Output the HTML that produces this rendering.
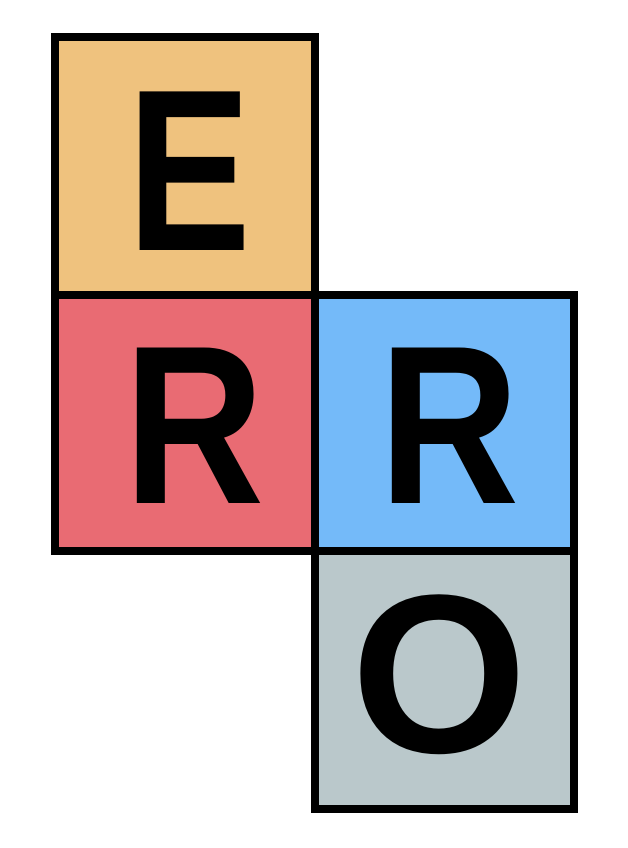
<!DOCTYPE html>
<html><head><meta charset="utf-8"><style>
html,body{margin:0;padding:0;background:#fff;width:628px;height:848px;overflow:hidden}
svg{display:block}
text{font-family:"Liberation Sans",sans-serif;font-weight:bold;font-size:226px;fill:#000}
</style></head><body>
<svg width="628" height="848" viewBox="0 0 628 848">
  <g>
    <rect x="55" y="37" width="260" height="258" fill="#EFC27E" stroke="#000" stroke-width="8"/>
    <text transform="translate(189,250) scale(0.82,1.02)" text-anchor="middle">E</text>
  </g>
  <g>
    <rect x="55" y="295" width="260" height="256" fill="#E96B73" stroke="#000" stroke-width="8"/>
    <text transform="translate(194,503) scale(0.86,1.0)" text-anchor="middle">R</text>
  </g>
  <g>
    <rect x="315" y="295" width="259" height="256" fill="#74BAF9" stroke="#000" stroke-width="8"/>
    <text transform="translate(449,503) scale(0.86,1.0)" text-anchor="middle">R</text>
  </g>
  <g>
    <rect x="315" y="551" width="259" height="258" fill="#BAC8CB" stroke="#000" stroke-width="8"/>
    <text transform="translate(439,752) scale(1.0,1.0)" text-anchor="middle">O</text>
  </g>
</svg>
</body></html>
